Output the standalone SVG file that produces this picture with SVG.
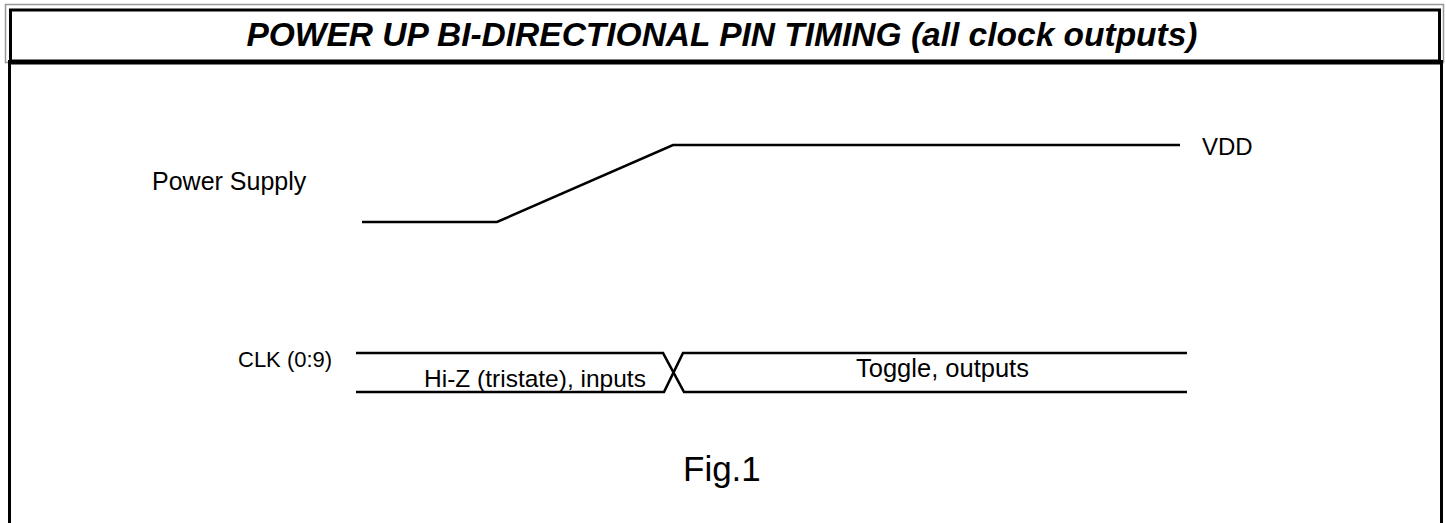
<svg xmlns="http://www.w3.org/2000/svg" width="1446" height="523" viewBox="0 0 1446 523">
<style>
.lbl{font-family:"Liberation Sans",Arial,sans-serif;font-size:24px;fill:#000}
.sig{fill:none;stroke:#000;stroke-width:2.6;stroke-linejoin:miter}
</style>
<rect width="1446" height="523" fill="#fff"/>
<g id="frame">
<rect x="5.5" y="4.5" width="1438" height="58" fill="none" stroke="#999" stroke-width="1.5"/>
<rect x="10.5" y="10" width="1429" height="52" fill="none" stroke="#000" stroke-width="3"/>
<line x1="10" y1="62" x2="1440" y2="62" stroke="#000" stroke-width="5"/>
<line x1="9.5" y1="60" x2="9.5" y2="523" stroke="#000" stroke-width="3"/>
<line x1="1441.5" y1="60" x2="1441.5" y2="523" stroke="#000" stroke-width="3"/>
<text x="722" y="46" text-anchor="middle" font-family="Liberation Sans,Arial,sans-serif" font-size="33.5" font-weight="bold" font-style="italic">POWER UP BI-DIRECTIONAL PIN TIMING (all clock outputs)</text>
</g>
<g id="power-supply">
<text class="lbl" x="152" y="190" style="font-size:25px">Power Supply</text>
<text class="lbl" x="1202" y="155">VDD</text>
</g>
<g id="clk">
<text class="lbl" x="238" y="367" style="font-size:22px">CLK (0:9)</text>
<text class="lbl" x="424" y="387" style="font-size:24.5px">Hi-Z (tristate), inputs</text>
<text class="lbl" x="856" y="377" style="font-size:25.5px">Toggle, outputs</text>
</g>
<g id="connectors">
<polyline class="sig" points="362,222 497,222 673,145 1180,145"/>
<polyline class="sig" points="356,353 663,353 684,392 1187,392"/>
<polyline class="sig" points="356,392 664,392 683,353 1187,353"/>
</g>
<g id="caption">
<text x="683" y="481" font-family="Liberation Sans,Arial,sans-serif" font-size="35">Fig.1</text>
</g>
</svg>
